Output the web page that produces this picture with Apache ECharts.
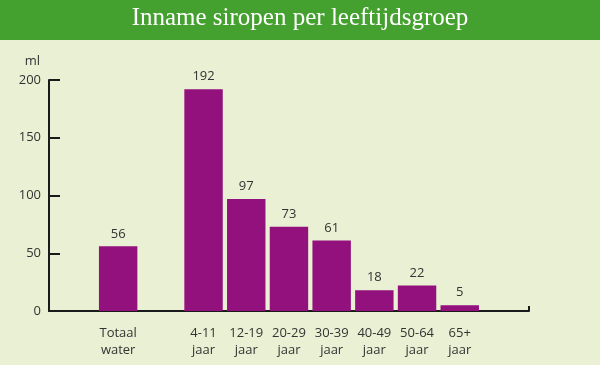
<!DOCTYPE html>
<html><head><meta charset="utf-8">
<script src="https://cdn.jsdelivr.net/npm/echarts@6/dist/echarts.min.js"></script>
<style>html,body{margin:0;padding:0;background:#eaf0d3}#c{width:600px;height:365px}</style>
</head><body><div id="c"></div>
<script>
var titleText = "Inname siropen per leeftijdsgroep";
var categories = ["Totaal\nwater", "", "4-11\njaar", "12-19\njaar", "20-29\njaar", "30-39\njaar", "40-49\njaar", "50-64\njaar", "65+\njaar"];
var values = [56, null, 192, 97, 73, 61, 18, 22, 5];
var yTicks = [0, 50, 100, 150, 200];
var yUnit = "ml";

var chart = echarts.init(document.getElementById('c'), null, {renderer: 'canvas'});
var font = "'Open Sans', 'Noto Sans', sans-serif";
var option = {
  backgroundColor: '#eaf0d3',
  animation: false,
  graphic: [
    {type: 'rect', left: 0, top: 0, shape: {width: 600, height: 40}, style: {fill: '#45a12f'}, z: 0},
    {type: 'text', x: 300, y: 18.5, style: {text: titleText, fill: '#ffffff', font: "25px 'Liberation Serif', serif", align: 'center', verticalAlign: 'middle'}, z: 1}
  ],
  grid: [
    {left: 49, right: 71, top: 80, bottom: 54},
    {left: 96.8, right: 118.9, top: 80, bottom: 54}
  ],
  xAxis: [
    {gridIndex: 0, type: 'value', min: 0, max: 1, interval: 1,
     axisLine: {show: true, lineStyle: {color: '#1a1a1a', width: 2}},
     axisTick: {show: true, inside: true, length: 5, lineStyle: {color: '#1a1a1a', width: 2}},
     axisLabel: {show: false}, splitLine: {show: false}},
    {gridIndex: 1, type: 'category', data: categories,
     axisLine: {show: false}, axisTick: {show: false},
     axisLabel: {show: true, interval: 0, margin: 14, color: '#333', fontSize: 13, lineHeight: 17, fontFamily: font}}
  ],
  yAxis: [
    {gridIndex: 0, type: 'value', min: yTicks[0], max: yTicks[yTicks.length-1], interval: 50,
     name: yUnit, nameLocation: 'end', nameGap: 12,
     nameTextStyle: {color: '#333', fontSize: 13, fontFamily: font, align: 'right', padding: [0, 9, 0, 0]},
     axisLine: {show: true, lineStyle: {color: '#1a1a1a', width: 2}},
     axisTick: {show: true, inside: true, length: 11, lineStyle: {color: '#1a1a1a', width: 2}},
     axisLabel: {show: true, margin: 8, color: '#333', fontSize: 13, fontFamily: font},
     splitLine: {show: false}},
    {gridIndex: 1, type: 'value', min: yTicks[0], max: yTicks[yTicks.length-1], show: false, splitLine: {show: false}}
  ],
  series: [{
    type: 'bar', xAxisIndex: 1, yAxisIndex: 1, data: values, barWidth: '90%',
    itemStyle: {color: '#93117c'},
    label: {show: true, position: 'top', distance: 6, color: '#333', fontSize: 13, fontFamily: font}
  }]
};
chart.setOption(option);
</script></body></html>
